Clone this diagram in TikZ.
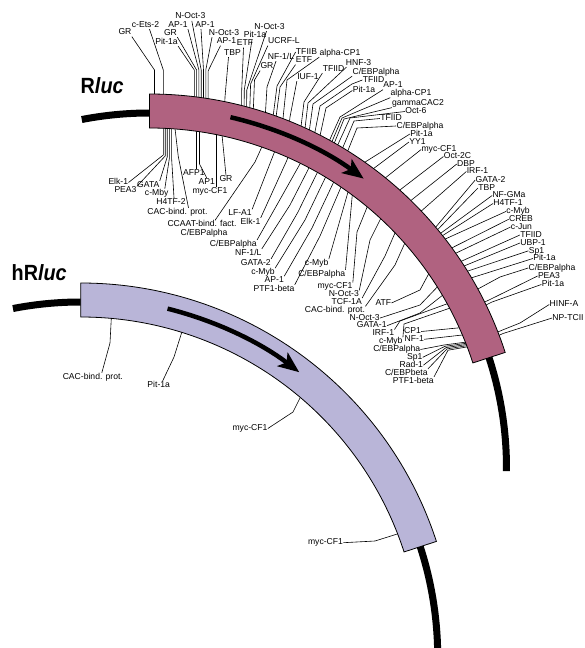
\documentclass[tikz,border=0pt]{standalone}
\usepackage{fontspec}
\setmainfont{Liberation Sans}
\newfontfamily\titlefont[FakeStretch=0.9]{Liberation Sans}
\usetikzlibrary{arrows.meta,calc}
\definecolor{rlucc}{RGB}{176,98,128}
\definecolor{hrlucc}{RGB}{185,181,216}
\newcommand\labfont{\fontsize{8.6pt}{9pt}\selectfont}
\begin{document}
\begin{tikzpicture}[x=1pt,y=1pt,
  lab/.style={font=\labfont, inner sep=0.2pt, text height=6pt, text depth=1.5pt},
  lead/.style={line width=0.6pt, line join=round},
  band/.style={draw=black, line width=0.8pt},
  tail/.style={line width=7pt},
  arr/.style={line width=4.5pt, -{Stealth[length=21pt,width=17pt,inset=5pt]}},
  title/.style={font=\titlefont\bfseries\fontsize{22pt}{22pt}\selectfont, inner sep=0pt}]
\useasboundingbox (0,0) rectangle (584,-648);
\clip (0,0) rectangle (584,-648);
\coordinate (C1) at (149.5,-468);
\coordinate (C2) at (80.7,-657);

% ---------- top labels ----------
\node[lab] (t1) at (125,-32.5) {GR};
\node[lab] (t2) at (145.5,-25) {c-Ets-2};
\node[lab] (t3) at (166.5,-42) {Pit-1a};
\node[lab] (t4) at (170.5,-33) {GR};
\node[lab] (t5) at (178,-25) {AP-1};
\node[lab] (t6) at (190.3,-16.7) {N-Oct-3};
\node[lab] (t7) at (205,-25) {AP-1};
\node[lab] (t8) at (224,-33) {N-Oct-3};
\node[lab] (t9) at (226.5,-41.5) {AP-1};
\node[lab] (t10) at (232.5,-53) {TBP};
\node[lab] (t11) at (245,-43.5) {ETF};
\node[lab] (t12) at (255,-35.5) {Pit-1a};
\node[lab] (t13) at (269.5,-27) {N-Oct-3};
\node[lab] (t14) at (284,-41.5) {UCRF-L};
\node[lab] (t15) at (267,-66.5) {GR};
\node[lab] (t16) at (281,-57) {NF-1/L};
\node[lab] (t17) at (306.5,-52) {TFIIB};
\node[lab] (t18) at (304,-60.5) {ETF};
\node[lab] (t19) at (308,-77) {IUF-1};
\node[lab] (t20) at (340,-53) {alpha-CP1};
\node[lab] (t21) at (333.5,-69) {TFIID};
\node[lab] (t22) at (358.5,-63) {HNF-3};
\node[lab] (t23) at (376,-72) {C/EBPalpha};
\node[lab] (t24) at (373.5,-80) {TFIID};
\node[lab] (t25) at (364,-90.5) {Pit-1a};
\node[lab] (t26) at (393,-85.5) {AP-1};
\node[lab] (t27) at (411,-93.5) {alpha-CP1};
\node[lab] (t28) at (418,-103.5) {gammaCAC2};
\node[lab] (t29) at (416,-111.5) {Oct-6};
\node[lab] (t30) at (391,-118.5) {TFIID};
\node[lab] (t31) at (420,-126) {C/EBPalpha};
\node[lab] (t32) at (421.5,-134) {Pit-1a};
\node[lab] (t33) at (417.5,-142) {YY1};

\draw[lead] (t1.south east) -- (154.5,-70) -- (154.5,-112);
\draw[lead] ([xshift=4pt]t2.south) -- (163.3,-70) -- (163.3,-112);
\draw[lead] (t3.south east) -- (194.3,-70) -- (194.3,-112);
\draw[lead] (t4.south east) -- (196.6,-70) -- (196.6,-112);
\draw[lead] (t5.south east) -- (198.9,-70) -- (198.9,-112);
\draw[lead] ([xshift=1.5pt]t6.south) -- (201.2,-70) -- (201.2,-112);
\draw[lead] ([xshift=-4pt]t7.south) -- (203.5,-70) -- (203.5,-112);
\draw[lead] ([xshift=-12pt]t8.south) -- (205.8,-70) -- (205.8,-112);
\draw[lead] ([xshift=-6pt]t9.south) -- (208.1,-71) -- (208.1,-112);
\draw[lead] ([xshift=-4pt]t10.south) -- (225,-97) -- (224.5,-112);
\draw[lead] ([xshift=-1.5pt]t11.south) -- (241.7,-90) -- (241.5,-115);
\draw[lead] ([xshift=-3pt]t12.south) -- (244.3,-90) -- (244,-115);
\draw[lead] ([xshift=-3pt]t13.south) -- (246.8,-90) -- (246.5,-115);
\draw[lead] (t14.south west) -- (250.6,-84) -- (249.5,-118);
\draw[lead] (t15.south west) -- (254.5,-80) -- (253,-118);
\draw[lead] ([xshift=-5pt]t16.south) -- (267,-87) -- (265,-120);
\draw[lead] (t17.west) -- (277,-86) -- (272,-125);
\draw[lead] (t18.south west) -- (280,-87) -- (275,-125);
\draw[lead] (t19.south west) -- (290,-117) -- (288,-135);
\draw[lead] (t20.south west) -- (287,-80) -- (282,-128);
\draw[lead] (t21.south west) -- (304,-102) -- (300,-135);
\draw[lead] ([xshift=1pt]t22.south west) -- (308,-103) -- (304,-137);
\draw[lead] (t23.south west) -- (313,-104) -- (308,-140);
\draw[lead] (t24.west) -- (352,-84) -- (320,-106) -- (313,-142);
\draw[lead] (t25.west) -- (326,-108) -- (318,-145);
\draw[lead] (t26.south west) -- (340,-117) -- ($(C1)+(61:357)$);
\draw[lead] (t27.south west) -- (342,-118) -- ($(C1)+(60.5:357)$);
\draw[lead] (t28.south west) -- (344,-119) -- ($(C1)+(60:357)$);
\draw[lead] (t29.west) -- (350,-118) -- ($(C1)+(59.5:357)$);
\draw[lead] (t30.west) -- (354,-121) -- ($(C1)+(58.5:357)$);
\draw[lead] (t31.west) -- (357,-128) -- ($(C1)+(57.5:357)$);
\draw[lead] (t32.west) -- ($(C1)+(56:357)$);
\draw[lead] (t33.west) -- ($(C1)+(54:357)$);

% ---------- right labels ----------
\node[lab] (r2) at (439,-149.5) {myc-CF1};
\node[lab] (r3) at (457.5,-156.5) {Oct-2C};
\node[lab] (r4) at (466,-164) {DBP};
\node[lab] (r5) at (477.5,-171.5) {IRF-1};
\node[lab] (r6) at (490.5,-180) {GATA-2};
\node[lab] (r7) at (486.7,-188) {TBP};
\node[lab] (r8) at (509,-195.5) {NF-GMa};
\node[lab] (r9) at (508,-203.5) {H4TF-1};
\node[lab] (r10) at (518,-211.5) {c-Myb};
\node[lab] (r11) at (521,-219.3) {CREB};
\node[lab] (r12) at (521.5,-227) {c-Jun};
\node[lab] (r13) at (531,-235) {TFIID};
\node[lab] (r14) at (533,-243) {UBP-1};
\node[lab] (r15) at (536.5,-250.8) {Sp1};
\node[lab] (r16) at (544.5,-258.5) {Pit-1a};
\node[lab] (r17) at (552,-268) {C/EBPalpha};
\node[lab] (r18) at (549,-276) {PEA3};
\node[lab] (r19) at (553,-284.5) {Pit-1a};
\node[lab] (r20) at (564,-304.5) {HINF-A};
\node[lab] (r21) at (568,-318) {NP-TCII};

\draw[lead] (r2.west) -- ($(C1)+(51.5:357)$);
\draw[lead] (r3.west) -- ($(C1)+(48.5:357)$);
\draw[lead] (r4.west) -- ($(C1)+(46:357)$);
\draw[lead] (r5.west) -- ($(C1)+(43.5:357)$);
\draw[lead] (r6.west) -- ($(C1)+(39.6:357)$);
\draw[lead] (r7.west) -- ($(C1)+(39.3:357)$);
\draw[lead] (r8.west) -- ($(C1)+(39:357)$);
\draw[lead] (r9.west) -- ($(C1)+(38.7:357)$);
\draw[lead] (r10.west) -- ($(C1)+(38.4:357)$);
\draw[lead] (r11.west) -- ($(C1)+(36.5:357)$);
\draw[lead] (r12.west) -- ($(C1)+(35.5:357)$);
\draw[lead] (r13.west) -- ($(C1)+(34:357)$);
\draw[lead] (r14.west) -- ($(C1)+(33.2:357)$);
\draw[lead] (r15.west) -- ($(C1)+(32.4:357)$);
\draw[lead] (r16.west) -- ($(C1)+(31.2:357)$);
\draw[lead] (r17.west) -- (500,-277) -- ($(C1)+(28.6:357)$);
\draw[lead] (r18.west) -- (490,-299.5) -- ($(C1)+(26.4:357)$);
\draw[lead] (r19.west) -- (492,-302) -- ($(C1)+(25.8:357)$);
\draw[lead] (r20.west) -- (520,-323) -- (505,-329) -- ($(C1)+(21.3:357)$);
\draw[lead] (r21.west) -- (503,-333.5) -- ($(C1)+(20.6:357)$);

% ---------- inner labels (Rluc) ----------
\node[lab] (i1) at (118.3,-182.5) {Elk-1};
\node[lab] (i2) at (125.5,-190.5) {PEA3};
\node[lab] (i3) at (148.3,-185) {GATA};
\node[lab] (i4) at (156.7,-193) {c-Mby};
\node[lab] (i5) at (171,-202) {H4TF-2};
\node[lab] (i6) at (177.5,-212) {CAC-bind. prot.};
\node[lab] (i7) at (194,-173.3) {AFP1};
\node[lab] (i8) at (206.7,-182) {AP1};
\node[lab] (i9) at (210,-191.3) {myc-CF1};
\node[lab] (i10) at (226,-179.7) {GR};
\node[lab] (i11) at (240,-213.5) {LF-A1};
\node[lab] (i12) at (202,-224.5) {CCAAT-bind. fact.};
\node[lab] (i13) at (204,-233) {C/EBPalpha};
\node[lab] (i14) at (250.5,-222) {Elk-1};
\node[lab] (i15) at (233.3,-244) {C/EBPalpha};
\node[lab] (i16) at (248.3,-253) {NF-1/L};
\node[lab] (i17) at (255.8,-263) {GATA-2};
\node[lab] (i18) at (263,-272.3) {c-Myb};
\node[lab] (i19) at (274.3,-280.3) {AP-1};
\node[lab] (i20) at (274,-289) {PTF1-beta};
\node[lab] (i21) at (316.7,-263.3) {c-Myb};
\node[lab] (i22) at (321.7,-274) {C/EBPalpha};
\node[lab] (i23) at (335,-286.7) {myc-CF1};
\node[lab] (i24) at (343.8,-294.5) {N-Oct-3};
\node[lab] (i25) at (346.7,-302.2) {TCF-1A};
\node[lab] (i26) at (335,-310.5) {CAC-bind. prot.};
\node[lab] (i27) at (383.3,-303) {ATF};
\node[lab] (i28) at (364.7,-318) {N-Oct-3};
\node[lab] (i29) at (371.7,-325.7) {GATA-1};
\node[lab] (i30) at (383.3,-333.7) {IRF-1};
\node[lab] (i31) at (390.8,-341.5) {c-Myb};
\node[lab] (i32) at (412.5,-331.5) {CP1};
\node[lab] (i33) at (414.3,-339.3) {NF-1};
\node[lab] (i34) at (396.7,-349.5) {C/EBPalpha};
\node[lab] (i35) at (414.7,-357.3) {Sp1};
\node[lab] (i36) at (411.3,-365.2) {Rad-1};
\node[lab] (i37) at (406.3,-373) {C/EBPbeta};
\node[lab] (i38) at (413.3,-381) {PTF1-beta};

\draw[lead] (i1.east) -- (163.3,-155) -- (163.3,-120);
\draw[lead] (i2.north east) -- (165.2,-156) -- (165.2,-120);
\draw[lead] (i3.north east) -- (167.2,-157) -- (167.2,-120);
\draw[lead] ([xshift=-4pt]i4.north east) -- (169.4,-158) -- (169.4,-120);
\draw[lead] ([xshift=3pt]i5.north) -- (171.6,-158) -- (171.6,-120);
\draw[lead] ([xshift=11pt]i6.north) -- (178.3,-156.7) -- (174,-120);
\draw[lead] ([xshift=2.7pt]i7.north) -- (196.7,-120);
\draw[lead] (i8.north) -- (199.5,-164) -- (199.5,-120);
\draw[lead] ([xshift=6.7pt]i9.north) -- (216.7,-120);
\draw[lead] (i10.north) -- (224,-155) -- (221,-125);
\draw[lead] (i11.north east) -- (285,-125);
\draw[lead] ([xshift=13pt]i12.north) -- (255,-162) -- (265,-140);
\draw[lead] (i14.north east) -- (287,-160) -- (293,-140);
\draw[lead] (i15.north east) -- (278,-203) -- (305,-155);
\draw[lead] (i16.north east) -- (290,-205) -- (313,-160);
\draw[lead] (i17.north east) -- (298,-212) -- (321,-165);
\draw[lead] (i18.north east) -- (305,-220) -- (329,-170);
\draw[lead] (i19.north east) -- (312,-228) -- (337,-175);
\draw[lead] (i20.north east) -- (320,-236) -- (344,-180);
\draw[lead] (i21.north east) -- (350,-185);
\draw[lead] (i22.north east) -- (353,-187);
\draw[lead] (i23.north east) -- (357,-232) -- (370,-200);
\draw[lead] (i24.north east) -- (370,-240) -- (384,-212);
\draw[lead] (i25.north east) -- (385,-256) -- (398,-226);
\draw[lead] (i26.north east) -- (395,-265) -- (408,-236);
\draw[lead] (i27.east) -- (420,-290) -- (434,-264);
\draw[lead] (i28.east) -- (420,-305) -- (443,-281);
\draw[lead] (i29.east) -- (420,-313) -- (448,-291);
\draw[lead] (i30.north east) -- (400,-321) -- (452,-302);
\draw[lead] (i31.north east) -- (404,-324) -- (456,-306);
\draw[lead] (i32.east) -- (478,-326);
\draw[lead] (i33.east) -- (480,-333);
\draw[lead] (i34.east) -- (444,-345) -- (482,-340);
\draw[lead] (i35.east) -- (445,-346.3) -- (482.5,-341);
\draw[lead] (i36.east) -- (446,-347.6) -- (483,-342);
\draw[lead] (i37.north east) -- (447,-348.9) -- (483.5,-343);
\draw[lead] (i38.north east) -- (448,-350.2) -- (484,-344);

% ---------- hRluc labels ----------
\node[lab] (h1) at (92.8,-377) {CAC-bind. prot.};
\node[lab] (h2) at (158.7,-385) {Pit-1a};
\node[lab] (h3) at (250,-428.5) {myc-CF1};
\node[lab] (h4) at (325.5,-542.7) {myc-CF1};
\draw[lead] ([xshift=9pt]h1.north) -- (110,-343) -- (112,-305);
\draw[lead] ([xshift=4pt]h2.north) -- (174,-357) -- (185,-322);
\draw[lead] (h3.east) -- (293,-412) -- (303,-392);
\draw[lead] (h4.east) -- (375,-541) -- (410,-530);

% ---------- bands ----------
\filldraw[band, fill=rlucc] ($(C1)+(90:374)$) arc[start angle=90,end angle=18,radius=374]
  -- ($(C1)+(18:340)$) arc[start angle=18,end angle=90,radius=340] -- cycle;
\draw[tail] ($(C1)+(101:355)$) arc[start angle=101,end angle=90,radius=355];
\draw[tail] ($(C1)+(18:357)$) arc[start angle=18,end angle=-0.5,radius=357];
\draw[arr] ($(C1)+(77:360)$) arc[start angle=77,end angle=53.5,radius=360];

\filldraw[band, fill=hrlucc] ($(C2)+(90:374)$) arc[start angle=90,end angle=18,radius=374]
  -- ($(C2)+(18:340)$) arc[start angle=18,end angle=90,radius=340] -- cycle;
\draw[tail] ($(C2)+(101:355)$) arc[start angle=101,end angle=90,radius=355];
\draw[tail] ($(C2)+(18:357)$) arc[start angle=18,end angle=-3,radius=357];
\draw[arr] ($(C2)+(76:359)$) arc[start angle=76,end angle=52.5,radius=359];

% ---------- titles ----------
\node[title, anchor=base west] (rl) at (80.5,-93.3) {R\textit{luc}};
\node[title, anchor=base west] (hrl) at (11.5,-280) {hR\textit{luc}};
\end{tikzpicture}
\end{document}
